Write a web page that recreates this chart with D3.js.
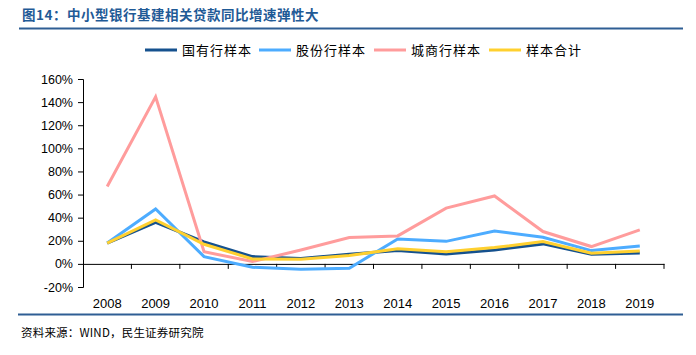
<!DOCTYPE html>
<html><head><meta charset="utf-8">
<script src="https://cdn.jsdelivr.net/npm/d3@7/dist/d3.min.js"></script>
<style>body{margin:0;background:#fff;}svg{display:block;}</style>
</head><body>
<svg id="c" width="696" height="355"></svg>
<script>
const years = ["2008","2009","2010","2011","2012","2013","2014","2015","2016","2017","2018","2019"];
const seriesNames = ["国有行样本","股份行样本","城商行样本","样本合计"];
const guoyou = [18, 36, 19, 6.3, 4.6, 8.4, 11.5, 8.5, 12, 17.3, 8.4, 9.5];
const gufen = [18, 47.5, 6.3, -2.9, -4.6, -3.8, 21.6, 19.5, 28.5, 23, 11.5, 15.5];
const chengshang = [67, 144.5, 10.5, 2, 12, 22.8, 24.2, 48.3, 58.8, 28, 15, 29.4];
const heji = [18, 38, 17, 4.3, 4, 7.2, 13, 10.6, 14.1, 19.3, 9.2, 11.2];
const yTicks = [-20,0,20,40,60,80,100,120,140,160];
const colors = ["#15518E","#4DACFF","#FF9C9C","#FFD02F"];

const svg = d3.select("#c");
const x = d3.scaleBand().domain(years).range([83, 664]);
const y = d3.scaleLinear().domain([-20,160]).range([287, 79]);

// title
svg.append("text").attr("x",22).attr("y",19.5).attr("fill","#1F5A96")
  .attr("font-family","'Noto Sans CJK SC'").attr("font-weight","bold").attr("font-size",13.5)
  .attr("letter-spacing",0.5).text("图14：中小型银行基建相关贷款同比增速弹性大");
svg.append("line").attr("x1",19).attr("x2",683).attr("y1",28.5).attr("y2",28.5).attr("stroke","#2F5E94").attr("stroke-width",2);

// y axis
const yAxis = svg.append("g").attr("transform","translate(83,0)")
  .call(d3.axisLeft(y).tickValues(yTicks).tickSize(5).tickFormat(d=>d+"%"));
yAxis.select(".domain").attr("stroke","#000");
yAxis.selectAll("line").attr("stroke","#000");
yAxis.selectAll("text").attr("font-family","'Liberation Sans', Arial").attr("font-size",12.5).attr("fill","#000").attr("x",-10);

// x axis at 0
const xAxis = svg.append("g").attr("transform",`translate(0,${y(0)})`)
  .call(d3.axisBottom(x).tickSize(0).tickFormat(""));
xAxis.select(".domain").attr("stroke","#000");
svg.append("g").selectAll("line").data(years).join("line")
  .attr("x1",d=>x(d)+x.bandwidth()).attr("x2",d=>x(d)+x.bandwidth())
  .attr("y1",y(0)).attr("y2",y(0)+5).attr("stroke","#000");
svg.append("g").selectAll("text").data(years).join("text")
  .attr("x",d=>x(d)+x.bandwidth()/2).attr("y",308).attr("text-anchor","middle")
  .attr("font-family","'Liberation Sans', Arial").attr("font-size",13).attr("fill","#000").text(d=>d);

// lines
const data = [guoyou, gufen, chengshang, heji];
const line = d3.line().x((d,i)=>x(years[i])+x.bandwidth()/2).y(d=>y(d));
svg.append("g").selectAll("path").data(data).join("path")
  .attr("d",line).attr("fill","none").attr("stroke",(d,i)=>colors[i]).attr("stroke-width",3)
  .attr("stroke-linejoin","miter");

// legend
const legX = [145, 259, 374, 489];
const lg = svg.append("g");
seriesNames.forEach((n,i)=>{
  lg.append("line").attr("x1",legX[i]).attr("x2",legX[i]+32).attr("y1",50).attr("y2",50)
    .attr("stroke",colors[i]).attr("stroke-width",3);
  lg.append("text").attr("x",legX[i]+37).attr("y",55).attr("font-family","'Noto Sans CJK SC'")
    .attr("font-size",13).attr("letter-spacing",1).attr("fill","#000").text(n);
});

// bottom line & source
svg.append("line").attr("x1",18).attr("x2",683).attr("y1",314.5).attr("y2",314.5).attr("stroke","#2F5E94").attr("stroke-width",2);
svg.append("text").attr("x",21).attr("y",337).attr("font-family","'Noto Sans CJK SC'").attr("font-size",11.5)
  .attr("fill","#000").attr("letter-spacing",0.2).text("资料来源：WIND，民生证券研究院");
</script>
</body></html>
